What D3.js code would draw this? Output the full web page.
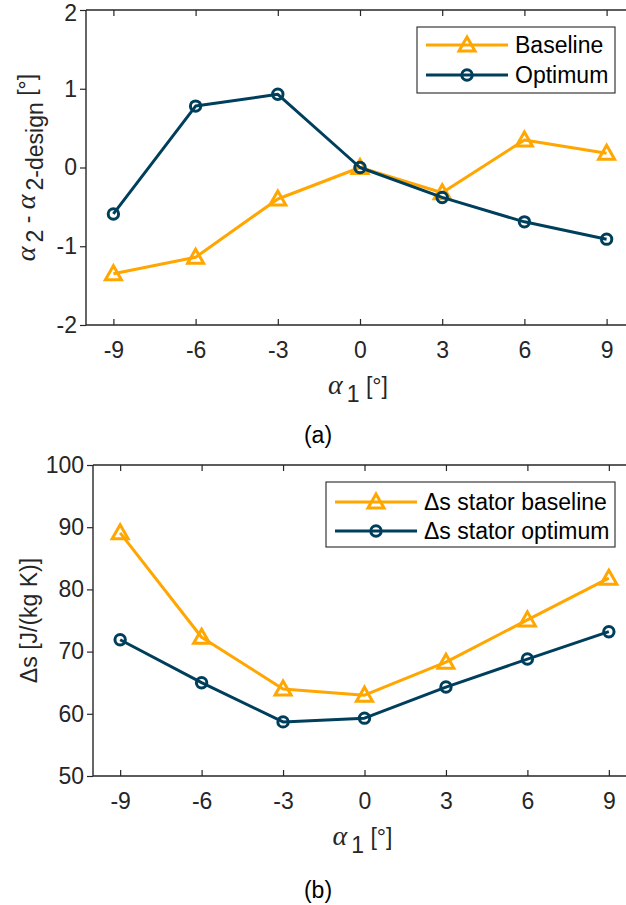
<!DOCTYPE html>
<html>
<head>
<meta charset="utf-8">
<script src="https://cdn.jsdelivr.net/npm/d3@7"></script>
<style>
  html, body { margin: 0; padding: 0; background: #fff; }
  svg { display: block; }
</style>
</head>
<body>
<script>
// Inlet flow angle sweep (degrees)
const alpha1 = [-9, -6, -3, 0, 3, 6, 9];

// (a) outlet angle deviation from design, degrees
const devBaseline = [-1.35, -1.14, -0.40, 0.00, -0.32, 0.35, 0.18];
const devOptimum  = [-0.59, 0.78, 0.93, 0.00, -0.38, -0.69, -0.91];

// (b) stator entropy rise, J/(kg K)
const dsBaseline = [89.1, 72.3, 64.0, 63.0, 68.3, 75.1, 81.8];
const dsOptimum  = [71.9, 65.0, 58.7, 59.3, 64.3, 68.8, 73.2];

// Tick values
const xTicks   = [-9, -6, -3, 0, 3, 6, 9];
const devTicks = [-2, -1, 0, 1, 2];
const dsTicks  = [50, 60, 70, 80, 90, 100];

const W = 626, H = 905;
const ORANGE = "#FFA600";
const NAVY = "#003F5C";
const AXIS = "#262626";
const SANS = "'Liberation Sans', Arial, Helvetica, sans-serif";
const SERIF = "'Liberation Serif', 'Times New Roman', serif";
const FS = 23;
const LW = 3;

const svg = d3.select("body").append("svg")
  .attr("width", W).attr("height", H)
  .attr("viewBox", `0 0 ${W} ${H}`);

const triPath = "M0,-8L8,6L-8,6Z";
const fmt = d => String(d); // plain hyphen-minus, no decimals

function addMarker(g, kind, color, x, y) {
  if (kind === "tri") {
    g.append("path").attr("d", triPath)
      .attr("transform", `translate(${x},${y})`)
      .attr("fill", "none").attr("stroke", color)
      .attr("stroke-width", LW).attr("stroke-linejoin", "miter");
  } else {
    g.append("circle").attr("cx", x).attr("cy", y).attr("r", 5.2)
      .attr("fill", "none").attr("stroke", color).attr("stroke-width", LW);
  }
}

// Write "α" (serif italic) followed by a subscript, as tspans
function alphaSub(textSel, sub) {
  textSel.append("tspan").attr("font-family", SERIF).attr("font-style", "italic")
    .attr("font-size", 28).text("α");
  textSel.append("tspan").attr("font-family", SANS).attr("dx", 4).attr("dy", 8).text(sub);
}

function panel(cfg) {
  const { top, bottom, left, right, yDomain, yTicks, series, legend } = cfg;
  const x = d3.scaleLinear().domain([-10, 10]).range([left, right]);
  const y = d3.scaleLinear().domain(yDomain).range([bottom, top]);
  const g = svg.append("g");

  // Bottom axis, ticks inward
  const xb = g.append("g").attr("transform", `translate(0,${bottom})`)
    .call(d3.axisBottom(x).tickValues(xTicks).tickFormat(fmt)
      .tickSizeInner(-6).tickSizeOuter(0).tickPadding(17));
  // Top axis, ticks inward, no labels
  const xt = g.append("g").attr("transform", `translate(0,${top})`)
    .call(d3.axisTop(x).tickValues(xTicks).tickSizeInner(-6).tickSizeOuter(0).tickFormat(""));
  // Left axis
  const yl = g.append("g").attr("transform", `translate(${left},0)`)
    .call(d3.axisLeft(y).tickValues(yTicks).tickFormat(fmt)
      .tickSizeInner(6).tickSizeOuter(0).tickPadding(3));

  [xb, xt, yl].forEach(a => {
    a.select(".domain").attr("stroke", AXIS).attr("stroke-width", 1.4);
    a.selectAll(".tick line").attr("stroke", AXIS).attr("stroke-width", 1.2);
    a.selectAll(".tick text").attr("fill", AXIS).attr("font-family", SANS).attr("font-size", FS);
  });
  xb.select(".domain").attr("d", `M${left},0H${right}`);
  xt.select(".domain").attr("d", `M${left},0H${right}`);
  yl.select(".domain").attr("d", `M0,${bottom}V${top}`);

  // keep the topmost y label inside the page
  if (cfg.nudgeTop) {
    yl.selectAll(".tick").filter(d => d === yDomain[1]).select("text")
      .attr("dy", "0.32em").attr("y", cfg.nudgeTop);
  }

  const line = d3.line().x((d, i) => x(alpha1[i])).y(d => y(d));
  series.forEach(s => {
    g.append("path").datum(s.values).attr("d", line)
      .attr("fill", "none").attr("stroke", s.color).attr("stroke-width", LW)
      .attr("stroke-linejoin", "round");
    s.values.forEach((v, i) => addMarker(g, s.marker, s.color, x(alpha1[i]), y(v)));
  });

  // Legend
  const lg = g.append("g");
  lg.append("rect").attr("x", legend.x).attr("y", legend.y)
    .attr("width", legend.w).attr("height", legend.h)
    .attr("fill", "#fff").attr("stroke", AXIS).attr("stroke-width", 1.1);
  series.forEach((s, i) => {
    const ry = legend.y + legend.rows[i];
    lg.append("line").attr("x1", legend.x + 9).attr("x2", legend.x + 91)
      .attr("y1", ry).attr("y2", ry).attr("stroke", s.color).attr("stroke-width", LW);
    addMarker(lg, s.marker, s.color, legend.x + 50, ry);
    lg.append("text").attr("x", legend.x + 98).attr("y", ry + 8)
      .attr("font-family", SANS).attr("font-size", FS).attr("fill", "#000")
      .text(s.label);
  });

  // x-axis title
  const xl = g.append("text").attr("x", (left + right) / 2 - 2).attr("y", bottom + 69)
    .attr("text-anchor", "middle").attr("fill", AXIS)
    .attr("font-family", SANS).attr("font-size", FS);
  alphaSub(xl, "1");
  xl.append("tspan").attr("dy", -8).text(" [°]");

  // panel caption
  svg.append("text").attr("x", 318).attr("y", cfg.captionY)
    .attr("text-anchor", "middle").attr("fill", "#000")
    .attr("font-family", SANS).attr("font-size", FS).text(cfg.caption);

  return { x, y, g };
}

// ---- (a) outlet angle deviation ----
const pa = panel({
  top: 10, bottom: 325, left: 86, right: 634,
  yDomain: [-2, 2], yTicks: devTicks, nudgeTop: 3,
  series: [
    { values: devBaseline, color: ORANGE, marker: "tri", label: "Baseline" },
    { values: devOptimum, color: NAVY, marker: "circ", label: "Optimum" }
  ],
  legend: { x: 417, y: 27, w: 198, h: 66, rows: [18, 48] },
  caption: "(a)", captionY: 443
});
{
  const t = pa.g.append("text").attr("transform", `translate(35,${(10 + 325) / 2}) rotate(-90)`)
    .attr("text-anchor", "middle").attr("fill", AXIS)
    .attr("font-family", SANS).attr("font-size", FS);
  alphaSub(t, "2");
  t.append("tspan").attr("dy", -8).text(" - ");
  alphaSub(t, "2-design");
  t.append("tspan").attr("dy", -8).text(" [°]");
}

// ---- (b) entropy generation ----
const pb = panel({
  top: 465, bottom: 776, left: 93, right: 636,
  yDomain: [50, 100], yTicks: dsTicks,
  series: [
    { values: dsBaseline, color: ORANGE, marker: "tri", label: "Δs stator baseline" },
    { values: dsOptimum, color: NAVY, marker: "circ", label: "Δs stator optimum" }
  ],
  legend: { x: 326, y: 482, w: 289, h: 65, rows: [20, 49] },
  caption: "(b)", captionY: 898
});
pb.g.append("text").attr("transform", `translate(37,${(465 + 776) / 2}) rotate(-90)`)
  .attr("text-anchor", "middle").attr("fill", AXIS)
  .attr("font-family", SANS).attr("font-size", FS)
  .text("Δs [J/(kg K)]");
</script>
</body>
</html>
